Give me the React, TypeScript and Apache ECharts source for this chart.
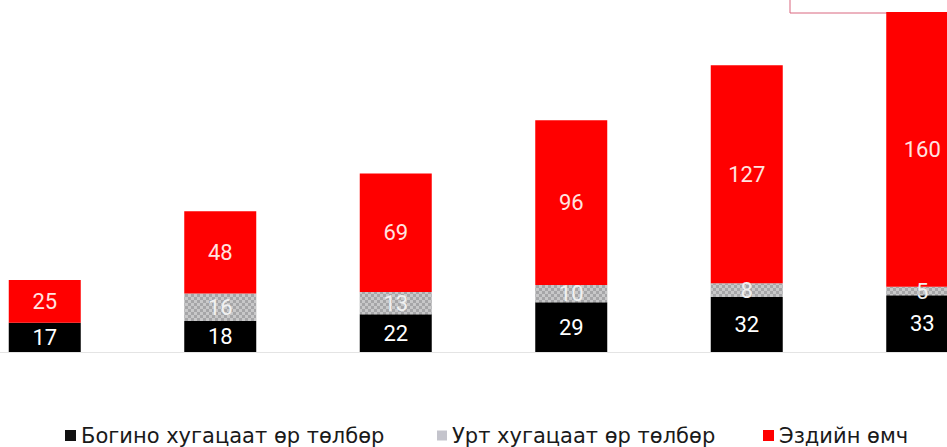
import React, { useEffect, useRef } from "react";
import * as echarts from "echarts";

const categories = ["1", "2", "3", "4", "5", "6"];
const shortTerm = [17, 18, 22, 29, 32, 33];
const longTerm = [0, 16, 13, 10, 8, 5];
const equity = [25, 48, 69, 96, 127, 160];
const seriesNames = ["Богино хугацаат өр төлбөр", "Урт хугацаат өр төлбөр", "Эздийн өмч"];

// the chart canvas is wider than the page and shifted left so that the
// first category starts off-page, as in the cropped reference
const SHIFT = 43;

export default function App() {
  const ref = useRef<HTMLDivElement>(null);
  useEffect(() => {
    if (!ref.current) return;
    const chart = echarts.init(ref.current, undefined, { renderer: "svg" });
    const labelFmt = (p: any) => (p.value ? String(p.value) : "");
    const legendText = {
      fontFamily: "DejaVu Sans",
      fontSize: 21,
      color: "#1a1a1a",
      lineHeight: 21,
    };
    const labelBase = {
      show: true,
      position: "inside",
      fontFamily: "Roboto",
      fontSize: 22,
      formatter: labelFmt,
    };
    chart.setOption({
      animation: false,
      backgroundColor: "#ffffff",
      grid: { left: 0, right: 0, top: 0, height: 352 },
      xAxis: {
        type: "category",
        data: categories,
        axisLine: { show: true, lineStyle: { color: "#e4e4e4", width: 1 } },
        axisTick: { show: false },
        axisLabel: { show: false },
      },
      yAxis: {
        type: "value",
        min: 0,
        max: 205,
        show: false,
        splitLine: { show: false },
      },
      legend: [
        {
          left: 60 + SHIFT,
          top: 420,
          itemWidth: 11,
          itemHeight: 11,
          icon: "rect",
          textStyle: legendText,
          data: [{ name: seriesNames[0], itemStyle: { color: "#111111" } }],
        },
        {
          left: 432 + SHIFT,
          top: 420,
          itemWidth: 10,
          itemHeight: 10,
          icon: "rect",
          textStyle: legendText,
          data: [{ name: seriesNames[1], itemStyle: { color: "#c4c4cc", decal: "none" } }],
        },
        {
          left: 758 + SHIFT,
          top: 420,
          itemWidth: 11,
          itemHeight: 11,
          icon: "rect",
          textStyle: legendText,
          data: [{ name: seriesNames[2], itemStyle: { color: "#ff0000" } }],
        },
      ],
      graphic: [
        {
          type: "rect",
          shape: { x: 790 + SHIFT, y: -20, width: 300, height: 33 },
          style: { fill: "none", stroke: "#d9677f", lineWidth: 1 },
          z: 0,
        },
      ],
      series: [
        {
          name: seriesNames[0],
          type: "bar",
          stack: "total",
          barWidth: 72,
          data: shortTerm,
          itemStyle: { color: "#000000" },
          label: { ...labelBase, color: "#ffffff" },
        },
        {
          name: seriesNames[1],
          type: "bar",
          stack: "total",
          barWidth: 72,
          data: longTerm,
          itemStyle: {
            color: "#a6a6a8",
            decal: {
              symbol: "rect",
              symbolSize: 1,
              color: "rgba(215,215,215,0.7)",
              dashArrayX: [[3, 3], [0, 3, 3, 0]],
              dashArrayY: [3, 0],
              rotation: 0,
            },
          },
          label: { ...labelBase, color: "#f0f0f0" },
        },
        {
          name: seriesNames[2],
          type: "bar",
          stack: "total",
          barWidth: 72,
          data: equity,
          itemStyle: { color: "#ff0000" },
          label: { ...labelBase, color: "#ffe4e0" },
        },
      ],
    });
    return () => chart.dispose();
  }, []);
  return (
    <div style={{ position: "fixed", left: 0, top: 0, width: 947, height: 447, overflow: "hidden", background: "#fff" }}>
      <div
        ref={ref}
        style={{ position: "absolute", left: -SHIFT, top: 0, width: 1053, height: 447 }}
      />
    </div>
  );
}
